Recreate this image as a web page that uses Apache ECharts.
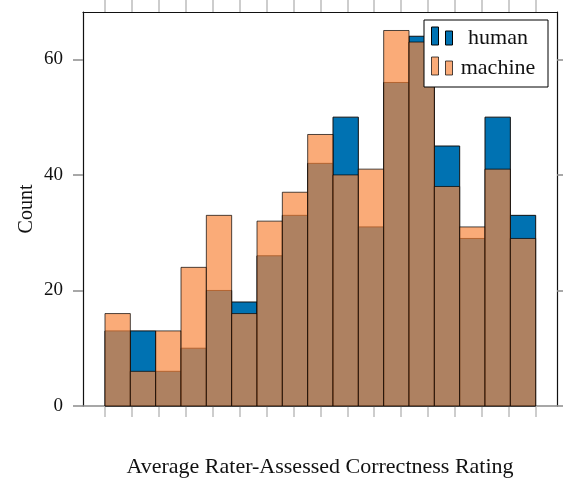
<!DOCTYPE html>
<html>
<head>
<meta charset="utf-8">
<script src="https://cdn.jsdelivr.net/npm/echarts@6/dist/echarts.min.js"></script>
<style>
  html, body { margin: 0; padding: 0; background: #fff; }
  #chart { width: 563px; height: 481px; }
</style>
</head>
<body>
<div id="chart"></div>
<script>
// ---- data ----
const seriesNames = ['human', 'machine'];
const human   = [13, 13, 6, 10, 20, 18, 26, 33, 42, 50, 31, 56, 64, 45, 29, 50, 33];
const machine = [16, 6, 13, 24, 33, 16, 32, 37, 47, 40, 41, 65, 63, 38, 31, 41, 29];
const binLow = 1, binHigh = 5;            // range covered by the bins
const xTickValues = [1, 1.25, 1.5, 1.75, 2, 2.25, 2.5, 2.75, 3, 3.25, 3.5, 3.75, 4, 4.25, 4.5, 4.75, 5];
const yTickValues = [0, 20, 40, 60];
const xName = 'Average Rater-Assessed Correctness Rating';
const yName = 'Count';

// ---- styling ----
const FONT = '"Liberation Serif", "DejaVu Serif", serif';
const BLUE = '#0072B2';
const ORANGE = 'rgba(248,135,62,0.7)';
const ORANGE_EDGE = 'rgba(0,0,0,0.7)';
const TICK = '#8c8c8c';
const TICK_LIGHT = '#bdbdbd';

const nBins = human.length;
const binW = (binHigh - binLow) / nBins;
const toBins = arr => arr.map((v, i) => [binLow + i * binW, binLow + (i + 1) * binW, v]);

function makeRender(fill, stroke) {
  return function (params, api) {
    const p0 = api.coord([api.value(0), 0]);
    const p1 = api.coord([api.value(1), api.value(2)]);
    return {
      type: 'rect',
      shape: { x: p0[0], y: p1[1], width: p1[0] - p0[0], height: p0[1] - p1[1] },
      style: { fill: fill, stroke: stroke, lineWidth: 1 }
    };
  };
}

const xMin = 0.7957, xMax = 5.198, yMax = 68.2;

const chart = echarts.init(document.getElementById('chart'), null, { renderer: 'canvas' });
chart.setOption({
  animation: false,
  backgroundColor: '#fff',
  grid: { left: 83, right: 6, top: 12, bottom: 75, containLabel: false, outerBoundsMode: 'none' },
  legend: {
    orient: 'vertical',
    left: 424, top: 20,
    padding: [6, 10, 8, 7],
    itemWidth: 22, itemHeight: 18, itemGap: 7,
    backgroundColor: '#fff',
    borderColor: '#000', borderWidth: 1, borderRadius: 0,
    z: 10,
    icon: 'path://M0,0H7V18H0Z M14,4H21V18H14Z',
    formatter: n => '{t|' + n + '}',
    textStyle: {
      rich: { t: { width: 80, height: 16, lineHeight: 16, padding: [4, 0, 0, 0], align: 'center', fontFamily: FONT, fontSize: 22, color: '#111' } }
    },
    data: [
      { name: seriesNames[0], itemStyle: { color: BLUE, borderColor: '#000', borderWidth: 1 } },
      { name: seriesNames[1], itemStyle: { color: ORANGE, borderColor: ORANGE_EDGE, borderWidth: 1 } }
    ]
  },
  xAxis: [
    {
      type: 'value', position: 'bottom', min: xMin, max: xMax,
      axisLine: { show: true, onZero: false, lineStyle: { color: '#8a8a8a', width: 1.5 } },
      axisTick: { show: true, inside: false, length: 11, customValues: xTickValues, lineStyle: { color: TICK_LIGHT, width: 1.5 } },
      axisLabel: { show: false },
      splitLine: { show: false },
      name: xName, nameLocation: 'middle', nameGap: 50, nameMoveOverlap: false,
      nameTextStyle: { fontFamily: FONT, fontSize: 22, color: '#111' }
    },
    {
      type: 'value', position: 'top', min: xMin, max: xMax,
      axisLine: { show: true, onZero: false, lineStyle: { color: '#111', width: 1.2 } },
      axisTick: { show: true, inside: false, length: 12, customValues: xTickValues, lineStyle: { color: TICK_LIGHT, width: 1.5 } },
      axisLabel: { show: false },
      splitLine: { show: false }
    }
  ],
  yAxis: [
    {
      type: 'value', position: 'left', min: 0, max: yMax,
      axisLine: { show: true, onZero: false, lineStyle: { color: '#111', width: 1.2 } },
      axisTick: { show: true, inside: false, length: 10, customValues: yTickValues, lineStyle: { color: TICK, width: 1.5 } },
      axisLabel: { show: true, customValues: yTickValues, margin: 20, fontFamily: FONT, fontSize: 19, color: '#111' },
      splitLine: { show: false },
      name: yName, nameLocation: 'middle', nameGap: 46, nameRotate: 90, nameMoveOverlap: false,
      nameTextStyle: { fontFamily: FONT, fontSize: 20, color: '#111' }
    },
    {
      type: 'value', position: 'right', min: 0, max: yMax,
      axisLine: { show: true, onZero: false, lineStyle: { color: '#111', width: 1.2 } },
      axisTick: { show: true, inside: false, length: 7, customValues: yTickValues, lineStyle: { color: TICK, width: 1.5 } },
      axisLabel: { show: false },
      splitLine: { show: false }
    }
  ],
  series: [
    {
      name: seriesNames[0], type: 'custom', xAxisIndex: 0, yAxisIndex: 0,
      itemStyle: { color: BLUE },
      encode: { x: [0, 1], y: 2 },
      data: toBins(human),
      renderItem: makeRender(BLUE, '#111'),
      z: 2
    },
    {
      name: seriesNames[1], type: 'custom', xAxisIndex: 0, yAxisIndex: 0,
      itemStyle: { color: ORANGE },
      encode: { x: [0, 1], y: 2 },
      data: toBins(machine),
      renderItem: makeRender(ORANGE, ORANGE_EDGE),
      z: 3
    }
  ]
});
</script>
</body>
</html>
